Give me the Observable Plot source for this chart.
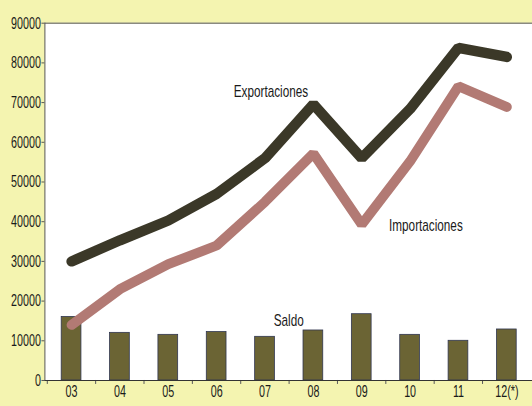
<!DOCTYPE html>
<html>
<head>
<meta charset="utf-8">
<script src="https://cdn.jsdelivr.net/npm/d3@7"></script>
<script src="https://cdn.jsdelivr.net/npm/@observablehq/plot@0.6"></script>
<style>
  html, body { margin: 0; padding: 0; background: #f4f4b0; overflow: hidden; width: 532px; height: 406px; }
  #chart svg { display: block; }
</style>
</head>
<body>
<div id="chart"></div>
<script>
const years = ["03", "04", "05", "06", "07", "08", "09", "10", "11", "12(*)"];
const exportaciones = [30000, 35300, 40300, 47000, 56000, 69600, 56000, 68400, 83800, 81500];
const importaciones = [14000, 23000, 29300, 34000, 45000, 57200, 39300, 55200, 74100, 68900];
const saldo = [16000, 12000, 11500, 12200, 11000, 12600, 16700, 11500, 10000, 12850];
const yTicks = [0, 10000, 20000, 30000, 40000, 50000, 60000, 70000, 80000, 90000];
const seriesLabels = ["Exportaciones", "Importaciones", "Saldo"];

const expData = years.map((y, i) => ({year: y, value: exportaciones[i]}));
const impData = years.map((y, i) => ({year: y, value: importaciones[i]}));
const salData = years.map((y, i) => ({year: y, value: saldo[i]}));

const font = "'Liberation Sans', Arial, sans-serif";
const W = 539, marginLeft = 45, insetLeft = 2;
const step = (W - marginLeft - insetLeft) / years.length;

const chart = Plot.plot({
  width: W,
  height: 406,
  marginLeft: marginLeft,
  marginRight: 0,
  marginTop: 23,
  marginBottom: 21,
  style: {fontFamily: font, fontSize: "17px", color: "#1a1a1a", background: "transparent"},
  x: {type: "band", domain: years, paddingInner: 0.59, paddingOuter: 0.295, insetLeft: insetLeft, label: null},
  y: {domain: [0, 90000], label: null},
  marks: [
    Plot.frame({fill: "white", stroke: null}),
    Plot.ruleY([90000], {stroke: "#8a8a80", strokeWidth: 1.5}),
    Plot.frame({anchor: "left", stroke: "#555", strokeWidth: 1}),
    Plot.barY(salData, {x: "year", y: "value", fill: "#6b6434", stroke: "#2f3550", strokeWidth: 0.8}),
    Plot.line(impData, {x: "year", y: "value", stroke: "#b27a74", strokeWidth: 10, strokeLinejoin: "miter", strokeLinecap: "round"}),
    Plot.line(expData, {x: "year", y: "value", stroke: "#3b3828", strokeWidth: 10.5, strokeLinejoin: "miter", strokeLinecap: "round"}),
    Plot.axisY({ticks: yTicks, tickFormat: d => String(d), tickSize: 3, tickPadding: 1, fontSize: 17, stroke: "#555"}),
    Plot.axisX({ticks: years, tickSize: 0, tickPadding: 5, fontSize: 17}),
    Plot.axisX({ticks: years, tickSize: 4, text: null, dx: -step / 2, stroke: "#555"}),
    Plot.ruleY([0], {stroke: "#333", strokeWidth: 1.2}),
    Plot.text([seriesLabels[0]], {x: () => "07", y: () => 72700, dx: 6, text: d => d, fontSize: 17, fill: "#1a1a1a"}),
    Plot.text([seriesLabels[1]], {x: () => "10", y: () => 39000, dx: 16, text: d => d, fontSize: 17, fill: "#1a1a1a"}),
    Plot.text([seriesLabels[2]], {x: () => "07", y: () => 15200, dx: 24, text: d => d, fontSize: 17, fill: "#1a1a1a"})
  ]
});

// condense all text horizontally (narrow typeface look)
chart.querySelectorAll("text").forEach(t => {
  const g = t.closest("g");
  const isTick = g && (g.getAttribute("aria-label") || "").includes("tick label");
  const s = isTick ? 0.64 : 0.7;
  const tr = t.getAttribute("transform");
  if (tr) t.setAttribute("transform", tr + ` scale(${s},1)`);
});
document.getElementById("chart").appendChild(chart);
</script>
</body>
</html>
